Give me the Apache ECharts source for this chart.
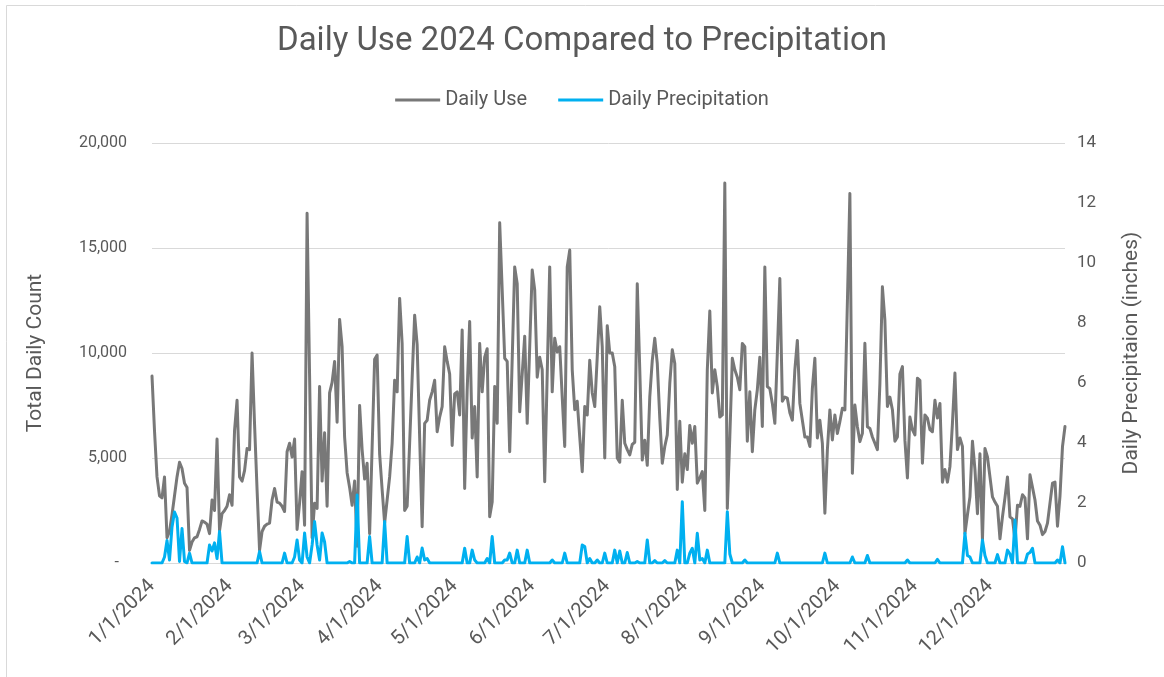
<!DOCTYPE html>
<html>
<head>
<meta charset="utf-8">
<script src="https://cdn.jsdelivr.net/npm/echarts@6/dist/echarts.min.js"></script>
<style>
html,body{margin:0;padding:0;background:#fff;}
#chart{width:1164px;height:677px;}
</style>
</head>
<body>
<div id="chart"></div>
<script>
// ---- DATA ----
const year = 2024;
const dayCount = 366;
const titleText = 'Daily Use 2024 Compared to Precipitation';
const seriesNames = ['Daily Use', 'Daily Precipitation'];
const leftAxisTicks = [0, 5000, 10000, 15000, 20000];
const rightAxisTicks = [0, 2, 4, 6, 8, 10, 12, 14];

// Daily Use (Total Daily Count), one value per day, 1/1/2024 .. 12/31/2024
const dailyUse = [
  8900,6300,4100,3200,3100,4100,1200,1500,2300,3200,
  4100,4800,4500,3800,3600,600,1000,1200,1250,1600,
  2000,1950,1850,1400,3000,2500,5900,1550,2350,2500,
  2700,3250,2750,6300,7750,4100,3900,4400,5450,5400,
  10000,6600,3500,600,1500,1750,1850,1900,3000,3550,
  2900,2850,2700,2450,5300,5700,5050,5900,1600,2850,
  4350,1800,16650,8900,1200,2850,2600,8400,3900,6200,
  2700,8100,8600,9600,6700,11600,10300,6000,4300,3600,
  2750,3900,800,7500,5400,4000,4750,1400,5500,9700,
  9900,5200,3500,1900,3000,4100,5700,8700,8150,12600,
  10450,2500,2700,5700,8800,11800,10400,6000,1730,6650,
  6800,7750,8150,8700,6250,6950,7450,10300,9600,9000,
  5600,8050,8150,7050,11100,3550,8250,11500,5950,7450,
  4100,10450,8150,9800,10200,2200,2900,8400,6650,16200,
  13000,9750,9600,5300,9700,14100,13300,7200,9000,10800,
  6650,10300,13950,13000,8850,9800,9200,3870,9000,14100,
  8150,10700,10050,10300,7900,5550,14100,14900,9200,7300,
  7700,6000,4350,7450,7050,9650,8100,7450,9800,12200,
  10300,5000,11300,10000,10000,9350,5000,4800,7750,5700,
  5400,5150,5650,5750,13300,9200,4900,5850,4650,7900,
  9650,10700,9500,6900,4750,5550,6100,8550,10150,9500,
  3500,6750,3850,5200,4450,6550,5700,6500,3800,4050,
  4350,2500,9200,12000,8100,9200,8400,6950,7050,18100,
  2600,6000,9750,9200,8850,8250,10450,10300,5800,8150,
  5300,7300,8250,9800,6500,14100,8400,8300,7600,6650,
  10000,13550,7700,7900,7850,7150,6800,9200,10600,7600,
  6800,6000,6000,5550,8300,9750,5950,6800,5700,2370,
  5380,7290,5860,7050,6170,6730,7370,7290,12400,17600,
  4270,7520,6490,5780,6170,10460,6490,6410,6000,5700,
  5400,8550,13150,11550,7450,7900,7300,5800,6000,9000,
  9350,5850,4050,6950,6350,6100,8800,8700,4750,7050,
  6900,6350,6250,7750,6900,7600,3850,4450,3850,4600,
  6650,9050,5400,5950,5550,1400,2300,3150,5800,4450,
  2350,5200,1100,5450,5050,4100,3150,2900,2700,1150,
  2200,3100,4100,2200,2100,1100,2750,2700,3250,3100,
  1150,4200,3600,3000,2000,1800,1350,1500,1900,2850,
  3800,3850,1750,3200,5550,6500
];

// Daily Precipitation (inches), one value per day
const dailyPrecip = [
  0,0,0,0,0,0.2,0.75,0.1,1.2,1.7,
  1.5,0.05,1.15,0.05,0,0.33,0,0,0,0,
  0,0,0,0.6,0.4,0.67,0.15,1.05,0,0,
  0,0,0,0,0,0,0,0,0,0,
  0,0,0,0.38,0,0,0,0,0,0,
  0,0,0,0.33,0,0,0,0.2,0.77,0.1,
  0,1.0,0.2,0,0.6,1.38,0.6,0.1,1.0,0.7,
  0,0,0,0,0,0,0,0,0,0.05,
  0,0,2.27,0,0,0,0,0.88,0,0,
  0,0,0,1.38,0,0,0,0,0,0,
  0,0,0.88,0,0,0,0.2,0,0.5,0.1,
  0.15,0,0,0,0,0,0,0,0,0,
  0,0,0,0,0,0.49,0,0,0.43,0.1,
  0,0,0,0,0.15,0,0.88,0,0,0,
  0,0.1,0.1,0.33,0,0,0.43,0,0,0,
  0.43,0,0,0,0,0,0,0,0,0,
  0.1,0,0,0,0,0.33,0,0,0,0,
  0,0,0.6,0.55,0,0.15,0,0,0.1,0,
  0,0.33,0,0,0,0.43,0,0.4,0,0,
  0.35,0,0,0,0.05,0,0,0,0.77,0,
  0,0.08,0,0,0,0.08,0,0,0,0,
  0.43,0,2.04,0,0,0.33,0.49,0,0.99,0.1,
  0.15,0,0.43,0,0,0,0,0,0,0,
  1.71,0.3,0,0,0,0,0,0.1,0,0,
  0,0,0,0,0,0,0,0,0,0,
  0.33,0,0,0,0,0,0,0,0,0,
  0,0,0,0,0,0,0,0,0,0.33,
  0,0,0,0,0,0,0,0,0,0,
  0.2,0,0,0,0,0,0.25,0,0,0,
  0,0,0,0,0,0,0,0,0,0,
  0,0,0.1,0,0,0,0,0,0,0,
  0,0,0,0,0.12,0,0,0,0,0,
  0,0,0,0,0,0.99,0.25,0.2,0,0,
  0,0,0.77,0.25,0,0,0,0,0.28,0,
  0,0,0.43,0.3,0,1.43,0,0,0,0,
  0.3,0.35,0.49,0,0,0,0,0,0,0,
  0,0,0.1,0,0.54,0
];

// categories: every date of 2024 as M/D/YYYY
const categories = [];
for (let i = 0; i < dayCount; i++) {
  const d = new Date(Date.UTC(year, 0, 1 + i));
  categories.push((d.getUTCMonth() + 1) + '/' + d.getUTCDate() + '/' + d.getUTCFullYear());
}

// ---- CHART ----
const FONT = 'Roboto, "Noto Sans", sans-serif';
const TXT = '#595959';
const chart = echarts.init(document.getElementById('chart'), null, {renderer: 'canvas'});
chart.setOption({
  backgroundColor: '#ffffff',
  animation: false,
  textStyle: {fontFamily: FONT},
  graphic: [{
    type: 'rect',
    silent: true,
    shape: {x: 6.5, y: 5.5, width: 1200, height: 700},
    style: {fill: 'none', stroke: '#d9d9d9', lineWidth: 1}
  }],
  title: {
    text: titleText,
    left: 'center',
    top: 20,
    textStyle: {fontFamily: FONT, fontSize: 33, fontWeight: 'normal', color: TXT}
  },
  legend: {
    data: seriesNames,
    top: 85,
    left: 'center',
    icon: 'rect',
    itemWidth: 45,
    itemHeight: 3,
    itemGap: 31,
    textStyle: {fontFamily: FONT, fontSize: 20, color: TXT}
  },
  grid: {left: 152, right: 99, top: 143, bottom: 114, containLabel: false},
  xAxis: {
    type: 'category',
    data: categories,
    boundaryGap: false,
    axisTick: {show: false},
    axisLine: {show: true, lineStyle: {color: '#d9d9d9', width: 1}},
    splitLine: {show: false},
    axisLabel: {
      interval: function (idx, val) { return val.split('/')[1] === '1'; },
      rotate: 45,
      margin: 20,
      fontFamily: FONT,
      fontSize: 20,
      color: TXT
    }
  },
  yAxis: [
    {
      type: 'value',
      min: leftAxisTicks[0],
      max: leftAxisTicks[leftAxisTicks.length - 1],
      interval: leftAxisTicks[1] - leftAxisTicks[0],
      name: 'Total Daily Count',
      nameLocation: 'middle',
      nameRotate: 90,
      nameGap: 106,
      nameTextStyle: {fontFamily: FONT, fontSize: 21, color: TXT},
      axisLine: {show: false},
      axisTick: {show: false},
      splitLine: {show: true, lineStyle: {color: '#d9d9d9', width: 1}},
      axisLabel: {
        margin: 25,
        fontFamily: FONT,
        fontSize: 16,
        color: TXT,
        formatter: function (v) { return v === 0 ? '-\u2002' : v.toLocaleString('en-US'); }
      }
    },
    {
      type: 'value',
      min: rightAxisTicks[0],
      max: rightAxisTicks[rightAxisTicks.length - 1],
      interval: rightAxisTicks[1] - rightAxisTicks[0],
      name: 'Daily Precipitaion (inches)',
      nameLocation: 'middle',
      nameRotate: 90,
      nameGap: 56,
      nameTextStyle: {fontFamily: FONT, fontSize: 21, color: TXT},
      axisLine: {show: false},
      axisTick: {show: false},
      splitLine: {show: false},
      axisLabel: {margin: 12, fontFamily: FONT, fontSize: 17, color: TXT}
    }
  ],
  series: [
    {
      name: seriesNames[0],
      type: 'line',
      yAxisIndex: 0,
      data: dailyUse,
      showSymbol: false,
      symbol: 'none',
      color: '#787878',
      lineStyle: {color: '#787878', width: 3, join: 'round', cap: 'round'},
      z: 2
    },
    {
      name: seriesNames[1],
      type: 'line',
      yAxisIndex: 1,
      data: dailyPrecip,
      showSymbol: false,
      symbol: 'none',
      color: '#00b0f0',
      lineStyle: {color: '#00b0f0', width: 3, join: 'round', cap: 'round'},
      z: 3
    }
  ]
});
</script>
</body>
</html>
